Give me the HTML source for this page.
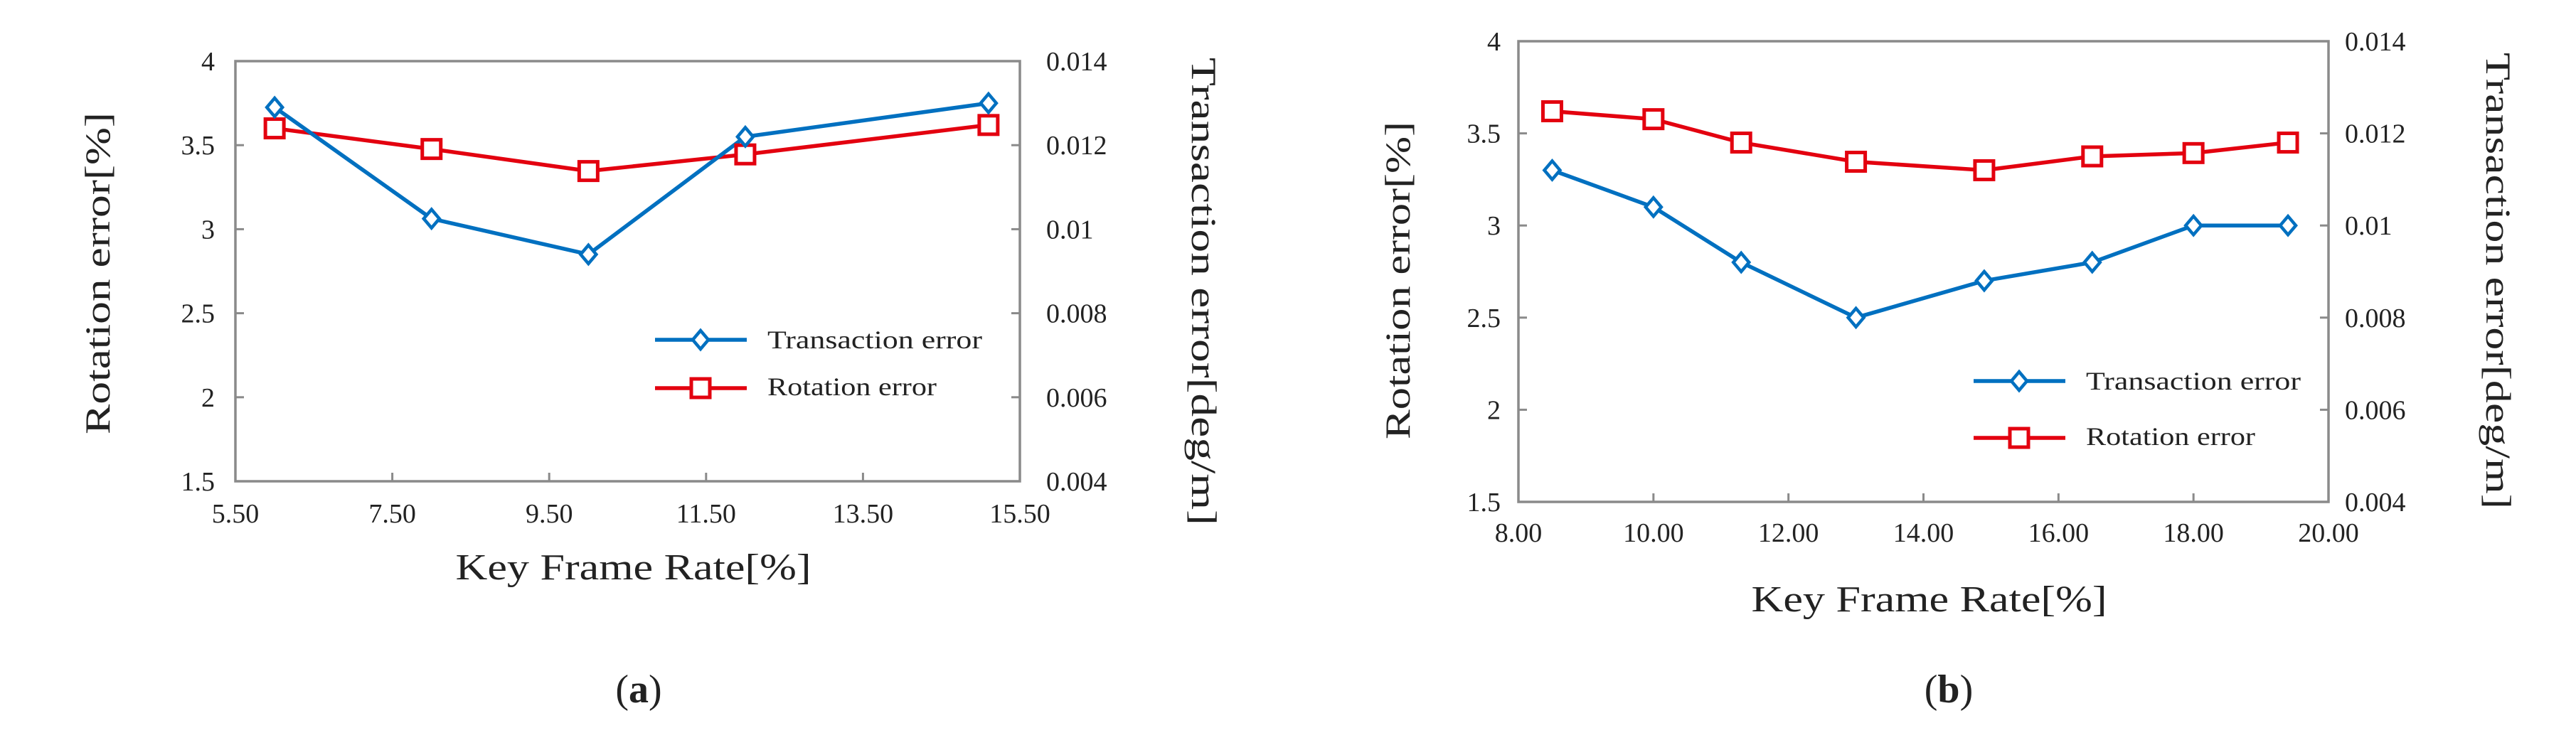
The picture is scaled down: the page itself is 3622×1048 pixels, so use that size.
<!DOCTYPE html>
<html><head><meta charset="utf-8"><style>
html,body{margin:0;padding:0;background:#fff;}
svg{display:block;}
text{font-family:"Liberation Serif",serif;fill:#222;}
</style></head><body>
<svg id="fig" width="3622" height="1048" viewBox="0 0 3622 1048" xmlns="http://www.w3.org/2000/svg"></svg>
<script>
// Chart (a) data
const aX = [6, 8, 10, 12, 15.1];
const aTrans = [0.0129, 0.01025, 0.0094, 0.0122, 0.0130];
const aRot = [3.60, 3.477, 3.346, 3.445, 3.62];
const aXTicks = [5.5, 7.5, 9.5, 11.5, 13.5, 15.5];
const aXTickLabels = ["5.50", "7.50", "9.50", "11.50", "13.50", "15.50"];
// Chart (b) data
const bX = [8.5, 10, 11.3, 13, 14.9, 16.5, 18, 19.4];
const bTrans = [0.0112, 0.0104, 0.0092, 0.0080, 0.0088, 0.0092, 0.0100, 0.0100];
const bRot = [3.62, 3.577, 3.45, 3.346, 3.30, 3.375, 3.393, 3.45];
const bXTicks = [8, 10, 12, 14, 16, 18, 20];
const bXTickLabels = ["8.00", "10.00", "12.00", "14.00", "16.00", "18.00", "20.00"];
// shared axes
const leftTicks = [1.5, 2, 2.5, 3, 3.5, 4];
const leftTickLabels = ["1.5", "2", "2.5", "3", "3.5", "4"];
const rightTicks = [0.004, 0.006, 0.008, 0.010, 0.012, 0.014];
const rightTickLabels = ["0.004", "0.006", "0.008", "0.01", "0.012", "0.014"];

const NS = "http://www.w3.org/2000/svg";
const svg = document.getElementById('fig');
function el(tag, attrs, parent, txt) {
  const e = document.createElementNS(NS, tag);
  for (const k in attrs) e.setAttribute(k, attrs[k]);
  if (txt !== undefined) e.textContent = txt;
  (parent || svg).appendChild(e);
  return e;
}

function drawChart(id, L, R, T, B, xs, trans, rot, xTicks, xTickLabels, xMin, xMax, lx, rlx, ylX, ylY0, ylY1, yrX, yrY0, yrY1, xlabY, xtCX, legX, legY1, legY2, capX) {
  const g = el('g', {});
  
  
  const sx = v => L + (v - xMin) / (xMax - xMin) * (R - L);
  const syL = v => B - (v - 1.5) / 2.5 * (B - T);
  const syR = v => B - (v - 0.004) / 0.010 * (B - T);
  const box = el('rect', {x: L, y: T, width: R - L, height: B - T, fill: 'none', stroke: '#8a8a8a', 'stroke-width': 3.5}, g);
  
  
  leftTicks.forEach((v, i) => {
    const y = syL(v);
    el('line', {x1: L, x2: L + 12, y1: y, y2: y, stroke: '#8a8a8a', 'stroke-width': 3}, g);
    const t = el('text', {x: lx, y: y + 13, 'font-size': 38, 'text-anchor': 'end'}, g, leftTickLabels[i]);
    
    
  });
  rightTicks.forEach((v, i) => {
    const y = syR(v);
    el('line', {x1: R - 12, x2: R, y1: y, y2: y, stroke: '#8a8a8a', 'stroke-width': 3}, g);
    const t = el('text', {x: rlx, y: y + 13, 'font-size': 38}, g, rightTickLabels[i]);
    
    
  });
  xTicks.forEach((v, i) => {
    const x = sx(v);
    el('line', {x1: x, x2: x, y1: B - 12, y2: B, stroke: '#8a8a8a', 'stroke-width': 3}, g);
    const t = el('text', {x: x, y: xtCX, 'font-size': 38, 'text-anchor': 'middle'}, g, xTickLabels[i]);
    
    
  });
  // series lines
  const bp = xs.map((x, i) => sx(x) + ',' + syR(trans[i])).join(' ');
  const rp = xs.map((x, i) => sx(x) + ',' + syL(rot[i])).join(' ');
  const rl = el('polyline', {points: rp, fill: 'none', stroke: '#e3000f', 'stroke-width': 5.5, 'stroke-linejoin': 'round'}, g);
  
  
  const bl = el('polyline', {points: bp, fill: 'none', stroke: '#0070c0', 'stroke-width': 5.5, 'stroke-linejoin': 'round'}, g);
  
  
  xs.forEach((x, i) => {
    const cx = sx(x), cy = syL(rot[i]);
    const s = el('rect', {x: cx - 13, y: cy - 13, width: 26, height: 26, fill: '#fff', stroke: '#e3000f', 'stroke-width': 5}, g);
    
    
  });
  xs.forEach((x, i) => {
    const cx = sx(x), cy = syR(trans[i]);
    const d = el('polygon', {points: `${cx},${cy-13} ${cx+11},${cy} ${cx},${cy+13} ${cx-11},${cy}`, fill: '#fff', stroke: '#0070c0', 'stroke-width': 4.5}, g);
    
    
  });
  // legend
  const lg = el('g', {}, g);
  
  
  el('line', {x1: legX, x2: legX + 129, y1: legY1, y2: legY1, stroke: '#0070c0', 'stroke-width': 5.5}, lg);
  const mx = legX + 64;
  el('polygon', {points: `${mx},${legY1-13} ${mx+11},${legY1} ${mx},${legY1+13} ${mx-11},${legY1}`, fill: '#fff', stroke: '#0070c0', 'stroke-width': 4.5}, lg);
  const t1 = el('text', {x: legX + 158, y: legY1 + 12, 'font-size': 36, textLength: 302, lengthAdjust: 'spacingAndGlyphs'}, lg, 'Transaction error');
  
  
  el('line', {x1: legX, x2: legX + 129, y1: legY2, y2: legY2, stroke: '#e3000f', 'stroke-width': 5.5}, lg);
  el('rect', {x: mx - 13, y: legY2 - 13, width: 26, height: 26, fill: '#fff', stroke: '#e3000f', 'stroke-width': 5}, lg);
  const t2 = el('text', {x: legX + 158, y: legY2 + 10, 'font-size': 36, textLength: 238, lengthAdjust: 'spacingAndGlyphs'}, lg, 'Rotation error');
  
  
  // axis titles
  const yl = el('text', {x: 0, y: 0, 'font-size': 50, 'text-anchor': 'middle', textLength: ylY1 - ylY0, lengthAdjust: 'spacingAndGlyphs', transform: `translate(${ylX},${(ylY0+ylY1)/2}) rotate(-90)`}, g, 'Rotation error[%]');
  
  
  const yr = el('text', {x: 0, y: 0, 'font-size': 50, 'text-anchor': 'middle', textLength: yrY1 - yrY0, lengthAdjust: 'spacingAndGlyphs', transform: `translate(${yrX},${(yrY0+yrY1)/2}) rotate(90)`}, g, 'Transaction error[deg/m]');
  
  
  const xt = el('text', {x: (L + R) / 2 + 8, y: xlabY, 'font-size': 52, 'text-anchor': 'middle', textLength: 500, lengthAdjust: 'spacingAndGlyphs'}, g, 'Key Frame Rate[%]');
  
  
  const cap = el('text', {x: capX, y: 988, 'font-size': 56, 'text-anchor': 'middle'}, g);
  
  
  el('tspan', {}, cap, '(');
  el('tspan', {'font-weight': 'bold'}, cap, id);
  el('tspan', {}, cap, ')');
}

drawChart('a', 331, 1434, 86, 677, aX, aTrans, aRot, aXTicks, aXTickLabels, 5.5, 15.5,
  302, 1471, 154, 158, 611, 1676, 81, 739, 815, 735, 921, 478, 546, 898);
drawChart('b', 2135, 3274, 58, 706, bX, bTrans, bRot, bXTicks, bXTickLabels, 8, 20,
  2110, 3297, 1982, 171, 618, 3496, 74, 716, 860, 762, 2775, 536, 616, 2740);
</script>
</body></html>
